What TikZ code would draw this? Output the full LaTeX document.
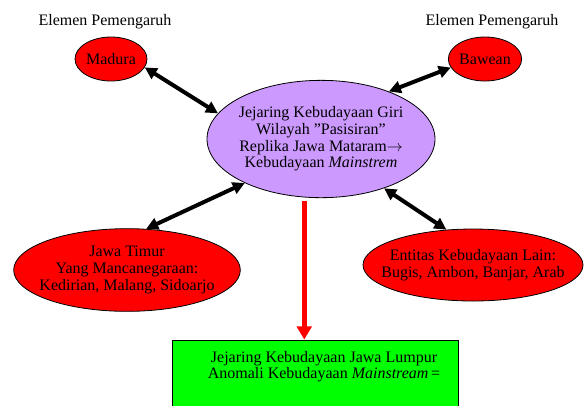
\documentclass[tikz,border=0pt]{standalone}
\usepackage{fontspec}
\setmainfont{Liberation Serif}
\definecolor{blobred}{RGB}{255,0,0}
\definecolor{girililac}{RGB}{204,153,255}
\definecolor{lumpurgreen}{RGB}{0,255,0}
\tikzset{every picture/.style={/utils/exec={\fontsize{12}{12.5}\selectfont}}}
\usetikzlibrary{arrows.meta}
\usetikzlibrary{shapes.geometric}
\tikzset{
  blob/.style={draw, ellipse, line width=0.6pt, inner sep=0pt},
  blobtext/.style={align=center, inner sep=0pt},
  tie/.style={{Triangle[length=9pt,width=9pt]}-{Triangle[length=9pt,width=9pt]}, line width=3pt},
  flow/.style={-{Triangle[length=10pt,width=11pt]}, draw=blobred, line width=3.75pt}
}

\begin{document}
\begin{tikzpicture}[x=0.75pt, y=-0.75pt]
  \useasboundingbox (0,0) rectangle (584,405);

  \node (elemenkiri) at (105,22) {Elemen Pemengaruh};
  \node (elemenkanan) at (492,22) {Elemen Pemengaruh};

  \node [blob, fill=blobred, minimum width=54pt, minimum height=33pt,
  label={[blobtext]center:Madura}] (madura) at (111,59) {};
  \node [blob, fill=blobred, minimum width=55pt, minimum height=33pt,
  label={[blobtext]center:Bawean}] (bawean) at (485,59) {};

  \node [blob, fill=girililac, minimum width=171pt, minimum height=88pt,
  label={[blobtext]center:{Jejaring Kebudayaan Giri\\Wilayah ''Pasisiran''\\Replika Jawa Mataram$\rightarrow$\\Kebudayaan \textit{Mainstrem}}}] (giri) at (321,139) {};

  \node [blob, fill=blobred, minimum width=170pt, minimum height=62pt,
  label={[blobtext]center:{Jawa Timur\\Yang Mancanegaraan:\\Kedirian, Malang, Sidoarjo}}] (jatim) at (127,270) {};
  \node [blob, fill=blobred, minimum width=165pt, minimum height=54pt,
  label={[blobtext]center:{Entitas Kebudayaan Lain:\\Bugis, Ambon, Banjar, Arab}}] (entitas) at (473,265) {};

  \node [draw, fill=lumpurgreen, line width=0.6pt, minimum width=214.5pt, minimum height=51pt, inner sep=0pt] (lumpur) at (315,374) {};
  \node [blobtext] (lumpurteks) at (324,366.5) {Jejaring Kebudayaan Jawa Lumpur\\Anomali Kebudayaan \textit{Mainstream}\,=};

  \draw [tie] (madura.-14) -- (giri.166);
  \draw [tie] (bawean.-166) -- (giri.35);
  \draw [tie] (jatim.65) -- (giri.-150);
  \draw [tie] (entitas.127) -- (giri.-38);

  \draw [flow, shorten <=3pt] (giri.-106) -- (giri.-106 |- lumpur.north);
\end{tikzpicture}
\end{document}
